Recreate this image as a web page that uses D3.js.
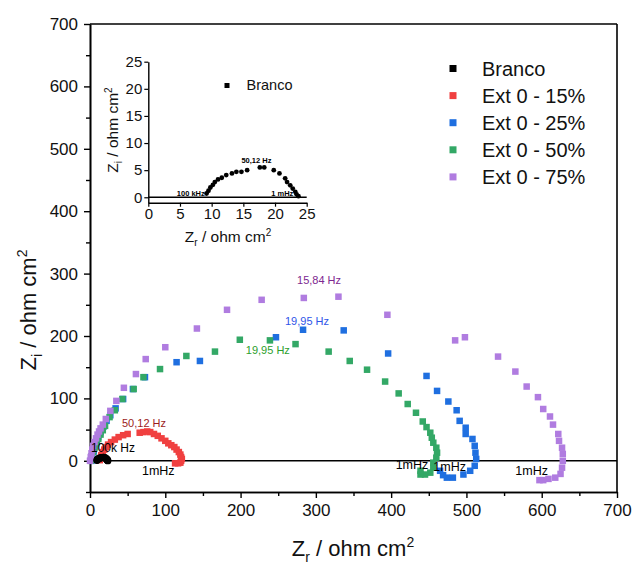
<!DOCTYPE html>
<html>
<head>
<meta charset="utf-8">
<script src="https://cdn.jsdelivr.net/npm/d3@7"></script>
<style>
  body { margin: 0; background: #fff; }
  text { font-family: "Liberation Sans", Arial, sans-serif; }
</style>
</head>
<body>
<svg id="grafico" width="633" height="566"></svg>
<script>
// series (Zr, Zi), ohm cm2
var brancoZr = [9.2, 9.5, 9.8, 10.2, 10.5, 11.0, 11.6, 12.3, 13.2, 13.9, 14.7, 15.6, 17.6, 18.3, 19.8, 20.7, 21.6, 21.9, 22.4, 22.8, 23.2, 23.4, 23.7];
var brancoZi = [0.7, 1.2, 1.8, 2.3, 2.8, 3.3, 3.6, 4.1, 4.4, 4.7, 4.7, 5.0, 5.5, 5.5, 5.0, 4.4, 3.5, 2.8, 2.2, 1.6, 1.0, 0.55, 0.2];

var ext15Zr = [13, 14, 15, 17, 19, 21, 24, 28, 33, 38, 44, 50, 66, 71, 76, 80, 85, 90, 95, 100, 104, 108, 112, 115, 118, 120, 121, 122, 121, 120, 117, 113];
var ext15Zi = [1, 5, 9, 14, 18, 22, 26, 30, 34, 38, 41, 43, 45, 46, 47, 46, 43, 40, 36, 32, 28, 25, 22, 18, 14, 10, 6, 3, 0, -3, -4, -4];

var ext25Zr = [2, 3, 5, 7, 9, 11, 14, 18, 22, 27, 34, 44, 57, 73, 115, 146, 247, 283, 337, 396, 447, 461, 476, 487, 491, 499, 499, 508, 511, 512, 513, 511, 505, 496, 482, 474, 469, 465];
var ext25Zi = [0, 8, 15, 23, 30, 38, 46, 55, 64, 73, 84, 99, 115, 134, 158, 160, 198, 210, 209, 172, 136, 112, 95, 81, 64, 53, 43, 35, 24, 13, 3, -8, -16, -22, -27, -27, -23, -16];

var ext50Zr = [1, 2, 4, 6, 8, 11, 14, 17, 20, 26, 33, 43, 58, 71, 93, 128, 166, 199, 239, 273, 317, 345, 368, 392, 410, 422, 433, 442, 447, 452, 454, 456, 460, 461, 460, 456, 456, 452, 445, 439, 439];
var ext50Zi = [0, 7, 14, 21, 28, 35, 42, 49, 56, 70, 81, 99, 115, 134, 147, 168, 175, 194, 193, 187, 175, 160, 146, 127, 108, 91, 77, 63, 54, 45, 37, 29, 21, 13, 5, -3, -11, -19, -22, -22, -16];

var ext75Zr = [0, 1, 2, 3, 4, 6, 8, 10, 12, 14, 17, 21, 27, 35, 45, 61, 74, 100, 142, 182, 228, 284, 330, 395, 485, 498, 542, 565, 580, 595, 602, 611, 615, 622, 623, 627, 628, 628, 627, 625, 618, 609, 602, 597];
var ext75Zi = [0, 6, 12, 18, 24, 30, 36, 42, 47, 52, 58, 67, 80, 96, 117, 139, 163, 182, 212, 242, 258, 261, 263, 234, 193, 198, 167, 143, 119, 102, 83, 71, 58, 43, 32, 21, 11, 0, -11, -21, -27, -29, -31, -31];

var seriesNames = ["Branco", "Ext 0 - 15%", "Ext 0 - 25%", "Ext 0 - 50%", "Ext 0 - 75%"];
var seriesColors = ["#000000", "#f04040", "#1f6fe0", "#33a866", "#b07ce0"];

var xTicks = [0, 100, 200, 300, 400, 500, 600, 700];
var yTicks = [0, 100, 200, 300, 400, 500, 600, 700];
var insetTicks = [0, 5, 10, 15, 20, 25];

// frequency labels: text, Zr, Zi, colour, font size
var freqLabels = [
  ["100k Hz", 1.3, 14, "#000", 12],
  ["50,12 Hz", 42.5, 54, "#9b1c1c", 11],
  ["1mHz", 69, -22, "#000", 12.5],
  ["19,95 Hz", 207, 171, "#2ca02c", 11],
  ["19,95 Hz", 259, 217, "#2f55e8", 11],
  ["15,84 Hz", 275, 283, "#7d2790", 11],
  ["1mHz", 406, -13, "#000", 12.5],
  ["1mHz", 456, -17, "#000", 12.5],
  ["1mHz", 565, -23, "#000", 12.5]
];
var insetLabels = [
  ["100 kHz", 4.5, 0.0],
  ["50,12 Hz", 14.7, 6.1],
  ["1 mHz", 19.4, 0.0]
];

function pts(xs, ys) {
  return xs.map(function(v, i) { return {x: v, y: ys[i]}; });
}

var svg = d3.select("#grafico");

var x = d3.scaleLinear().domain([0, 700]).range([90, 617]);
var y = d3.scaleLinear().domain([-50, 700]).range([492, 24]);

// main axes
svg.append("g").attr("transform", "translate(0," + y(-50) + ")")
    .call(d3.axisBottom(x).tickValues(xTicks).tickSize(6).tickSizeOuter(0).tickPadding(6));
svg.append("g").attr("transform", "translate(0," + y(-50) + ")")
    .call(d3.axisBottom(x).tickValues(d3.range(50, 700, 100)).tickSize(4).tickSizeOuter(0).tickFormat(""));
svg.append("g").attr("transform", "translate(" + x(0) + ",0)")
    .call(d3.axisLeft(y).tickValues(yTicks).tickSize(6).tickSizeOuter(0).tickPadding(6));
svg.append("g").attr("transform", "translate(" + x(0) + ",0)")
    .call(d3.axisLeft(y).tickValues(d3.range(-50, 700, 100)).tickSize(4).tickSizeOuter(0).tickFormat(""));

svg.selectAll(".domain").attr("stroke-width", 1.6);
svg.selectAll(".tick line").attr("stroke-width", 1.4);
svg.selectAll(".tick text").style("font-size", "17px").style("font-family", "Liberation Sans, Arial, sans-serif").attr("fill", "#111");

// frame top and right
svg.append("line").attr("x1", x(0)).attr("x2", x(700)).attr("y1", y(700)).attr("y2", y(700))
    .attr("stroke", "#000").attr("stroke-width", 1.6);
svg.append("line").attr("x1", x(700)).attr("x2", x(700)).attr("y1", y(700)).attr("y2", y(-50))
    .attr("stroke", "#000").attr("stroke-width", 1.6);
// zero line
svg.append("line").attr("x1", x(0)).attr("x2", x(700)).attr("y1", y(0)).attr("y2", y(0))
    .attr("stroke", "#000").attr("stroke-width", 1.6);

// axis titles
var xt = svg.append("text").attr("x", 353).attr("y", 556).attr("text-anchor", "middle")
    .style("font-size", "22px").attr("fill", "#111");
xt.append("tspan").text("Z");
xt.append("tspan").attr("dy", 6).style("font-size", "14px").text("r");
xt.append("tspan").attr("dy", -6).text(" / ohm cm");
xt.append("tspan").attr("dy", -9).style("font-size", "14px").text("2");

var yt = svg.append("text").attr("transform", "translate(36,310) rotate(-90)").attr("text-anchor", "middle")
    .style("font-size", "22px").attr("fill", "#111");
yt.append("tspan").text("Z");
yt.append("tspan").attr("dy", 6).style("font-size", "14px").text("i");
yt.append("tspan").attr("dy", -6).text(" / ohm cm");
yt.append("tspan").attr("dy", -9).style("font-size", "14px").text("2");

// data
var plotOrder = [
  [pts(ext15Zr, ext15Zi), 1],
  [pts(ext25Zr, ext25Zi), 2],
  [pts(ext50Zr, ext50Zi), 3],
  [pts(ext75Zr, ext75Zi), 4]
];
var sz = 6.5;
plotOrder.forEach(function(s) {
  svg.append("g").selectAll("rect")
    .data(s[0])
    .enter().append("rect")
      .attr("x", function(d) { return x(d.x) - sz / 2; })
      .attr("y", function(d) { return y(d.y) - sz / 2; })
      .attr("width", sz).attr("height", sz)
      .attr("fill", seriesColors[s[1]]);
});
svg.append("g").selectAll("circle")
  .data(pts(brancoZr, brancoZi))
  .enter().append("circle")
    .attr("cx", function(d) { return x(d.x); })
    .attr("cy", function(d) { return y(d.y); })
    .attr("r", 3.6)
    .attr("fill", "#000");

svg.append("g").selectAll("text")
  .data(freqLabels)
  .enter().append("text")
    .attr("x", function(d) { return x(d[1]); })
    .attr("y", function(d) { return y(d[2]); })
    .attr("fill", function(d) { return d[3]; })
    .style("font-size", function(d) { return d[4] + "px"; })
    .text(function(d) { return d[0]; });

// legend
var legend = svg.append("g").selectAll("g")
  .data(seriesNames)
  .enter().append("g")
    .attr("transform", function(d, i) { return "translate(453," + (68.5 + i * 27.1) + ")"; });
legend.append("rect").attr("x", -3.5).attr("y", -3.5).attr("width", 7).attr("height", 7)
    .attr("fill", function(d, i) { return seriesColors[i]; });
legend.append("text").attr("x", 29).attr("y", 7.5)
    .style("font-size", "20px").attr("fill", "#111")
    .text(function(d) { return d; });

// inset
var xi = d3.scaleLinear().domain([0, 25]).range([148.3, 306.7]);
var yi = d3.scaleLinear().domain([-1, 25]).range([202.7, 61.7]);
var inset = svg.append("g");
inset.append("g").attr("transform", "translate(0," + yi(-1) + ")")
    .call(d3.axisBottom(xi).tickValues(insetTicks).tickSize(4).tickSizeOuter(0).tickPadding(2));
inset.append("g").attr("transform", "translate(" + xi(0) + ",0)")
    .call(d3.axisLeft(yi).tickValues(insetTicks).tickSize(4).tickSizeOuter(0).tickPadding(2));
inset.selectAll(".domain").attr("stroke-width", 1.4);
inset.selectAll(".tick line").attr("stroke-width", 1.2);
inset.selectAll(".tick text").style("font-size", "15px").attr("fill", "#111");
inset.append("line").attr("x1", xi(0)).attr("x2", xi(25)).attr("y1", yi(0)).attr("y2", yi(0))
    .attr("stroke", "#000").attr("stroke-width", 1.4);

inset.append("g").selectAll("circle")
  .data(pts(brancoZr, brancoZi))
  .enter().append("circle")
    .attr("cx", function(d) { return xi(d.x); })
    .attr("cy", function(d) { return yi(d.y); })
    .attr("r", 2.4)
    .attr("fill", "#000");

inset.append("g").selectAll("text")
  .data(insetLabels)
  .enter().append("text")
    .attr("x", function(d) { return xi(d[1]); })
    .attr("y", function(d) { return yi(d[2]) - 1; })
    .style("font-size", "7.5px").style("font-weight", "bold")
    .text(function(d) { return d[0]; });

inset.append("rect").attr("x", 224.5).attr("y", 83).attr("width", 5).attr("height", 5).attr("fill", "#000");
inset.append("text").attr("x", 246.5).attr("y", 90).style("font-size", "14.5px").attr("fill", "#111").text(seriesNames[0]);

var ixt = inset.append("text").attr("x", 228).attr("y", 242).attr("text-anchor", "middle")
    .style("font-size", "15.5px").attr("fill", "#111");
ixt.append("tspan").text("Z");
ixt.append("tspan").attr("dy", 4).style("font-size", "10px").text("r");
ixt.append("tspan").attr("dy", -4).text(" / ohm cm");
ixt.append("tspan").attr("dy", -6).style("font-size", "10px").text("2");

var iyt = inset.append("text").attr("transform", "translate(118,130) rotate(-90)").attr("text-anchor", "middle")
    .style("font-size", "15.5px").attr("fill", "#111");
iyt.append("tspan").text("Z");
iyt.append("tspan").attr("dy", 4).style("font-size", "10px").text("i");
iyt.append("tspan").attr("dy", -4).text(" / ohm cm");
iyt.append("tspan").attr("dy", -6).style("font-size", "10px").text("2");
</script>
</body>
</html>
